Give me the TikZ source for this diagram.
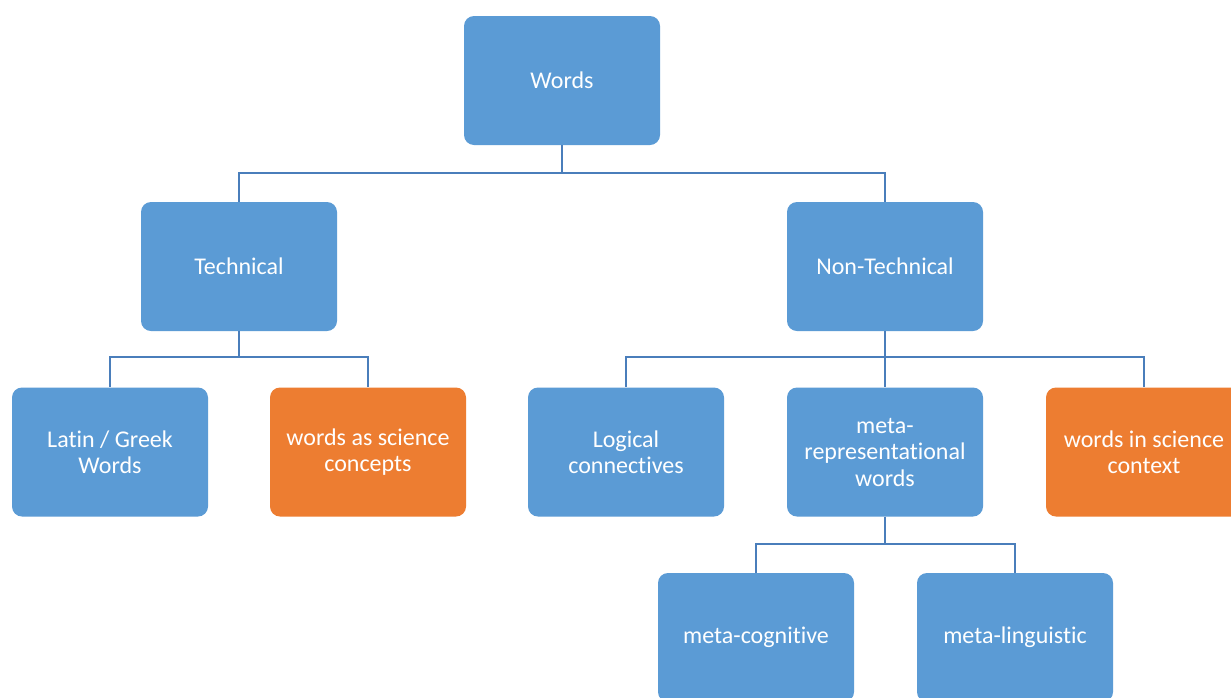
\documentclass[tikz,border=0pt]{standalone}
\usepackage{fontspec}
\setmainfont{Carlito}[Ligatures=NoCommon]
\definecolor{boxblue}{HTML}{5B9BD5}
\definecolor{boxorange}{HTML}{ED7D31}
\definecolor{linkblue}{HTML}{4A7EBB}
\tikzset{
  box/.style={rectangle, rounded corners=10pt, fill=boxblue, draw=none,
    minimum width=196pt, minimum height=129pt,
    align=center, text=white, inner sep=0pt,
    font=\fontsize{24}{26.5}\selectfont},
  hot/.style={box, fill=boxorange},
  link/.style={draw=linkblue, line width=2.6pt}
}
\begin{document}
\begin{tikzpicture}[x=1pt, y=-1pt]
  \useasboundingbox (0,0) rectangle (1231,697);
  \fill[white] (0,0) rectangle (1231,697);
  \clip (0,0) rectangle (1231,697);

  % top level
  \node[box] (words) at (562,80.5) {Words};

  % second level
  \node[box] (tech) at (239,266.5) {Technical};
  \node[box] (nontech) at (885,266.5) {Non-Technical};

  % third level
  \node[box] (latin) at (110,452) {Latin / Greek\\Words};
  \node[hot] (concepts) at (368,452) {words as science\\concepts};
  \node[box] (logical) at (626,452) {Logical\\connectives};
  \node[box] (metarep) at (885,452) {meta-\\representational\\words};
  \node[hot] (context) at (1144,452) {words in science\\context};

  % fourth level
  \node[box] (cognitive) at (756,637.5) {meta-cognitive};
  \node[box] (linguistic) at (1015,637.5) {meta-linguistic};

  % bus points
  \coordinate (wb) at (562,173);
  \coordinate (tb) at (239,357);
  \coordinate (nb) at (885,357);
  \coordinate (mb) at (885,544);

  % connectors
  \draw[link] (words.south) -- (wb) -| (tech.north);
  \draw[link] (wb) -| (nontech.north);

  \draw[link] (tech.south) -- (tb) -| (latin.north);
  \draw[link] (tb) -| (concepts.north);

  \draw[link] (nontech.south) -- (nb) -| (logical.north);
  \draw[link] (nb) -- (metarep.north);
  \draw[link] (nb) -| (context.north);

  \draw[link] (metarep.south) -- (mb) -| (cognitive.north);
  \draw[link] (mb) -| (linguistic.north);
\end{tikzpicture}
\end{document}
